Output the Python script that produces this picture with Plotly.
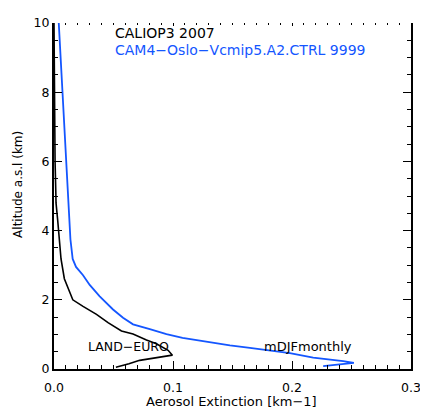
import plotly.graph_objects as go

# CALIOP3 2007, LAND-EURO profile (extinction km-1 vs altitude km)
caliop_alt = [10.0, 8.0, 7.0, 6.0, 5.0, 4.8, 4.3, 3.75, 3.18, 2.61, 2.24, 2.0,
              1.81, 1.58, 1.34, 1.10, 1.01, 0.92, 0.84, 0.73, 0.68, 0.54, 0.40,
              0.33, 0.25, 0.15, 0.05]
caliop_ext = [0.0, 0.0003, 0.0006, 0.0009, 0.0016, 0.0017, 0.0031, 0.0045, 0.0059,
              0.0087, 0.0130, 0.0158, 0.0244, 0.0357, 0.0454, 0.0567, 0.0664,
              0.0720, 0.0777, 0.0860, 0.0889, 0.0959, 0.0995,
              0.0850, 0.0720, 0.0630, 0.0520]

# CAM4-Oslo-Vcmip5.A2.CTRL mDJFmonthly profile
model_alt = [10.0, 8.75, 7.8, 6.39, 4.97, 3.75, 3.18, 2.95, 2.71, 2.52, 2.43, 2.1,
             1.72, 1.48, 1.29, 1.15, 1.01, 0.90, 0.77, 0.68, 0.61, 0.54, 0.46,
             0.33, 0.27, 0.23, 0.18, 0.085]
model_ext = [0.0040, 0.0059, 0.0073, 0.0093, 0.0115, 0.0138, 0.0157, 0.0185, 0.0244,
             0.0283, 0.0300, 0.0384, 0.0496, 0.0580, 0.0664, 0.0805, 0.0945,
             0.1080, 0.1310, 0.1478, 0.1646, 0.1815, 0.1982,
             0.2178, 0.2347, 0.2430, 0.2520, 0.2262]

x_tickvals = [0.0, 0.1, 0.2, 0.3]
x_ticktext = ["0.0", "0.1", "0.2", "0.3"]
y_tickvals = [0, 2, 4, 6, 8, 10]
y_ticktext = ["0", "2", "4", "6", "8", "10"]

title_obs = "CALIOP3 2007"
title_model = "CAM4\u2212Oslo\u2212Vcmip5.A2.CTRL 9999"
label_obs = "LAND\u2212EURO"
label_model = "mDJFmonthly"

BLUE = "#1456ff"
FONT = "DejaVu Sans"

fig = go.Figure()
fig.add_trace(go.Scatter(x=caliop_ext, y=caliop_alt, mode="lines",
                         line=dict(color="black", width=1.6), showlegend=False,
                         hoverinfo="skip"))
# model profile drawn against the (identical) top axis so its ticks are shown
fig.add_trace(go.Scatter(x=model_ext, y=model_alt, mode="lines", xaxis="x2",
                         line=dict(color=BLUE, width=1.8), showlegend=False,
                         hoverinfo="skip"))

# the page body has an 8px default margin, so the figure is 8px smaller
fig.update_layout(
    width=420, height=402,
    margin=dict(l=46, r=17, t=7, b=41),
    paper_bgcolor="white", plot_bgcolor="white",
    font=dict(family=FONT, color="black", size=12.5),
    xaxis=dict(range=[0, 0.3], tickvals=x_tickvals, ticktext=x_ticktext,
               ticks="inside", ticklen=8, tickwidth=1.3, tickcolor="black",
               minor=dict(dtick=0.01, ticks="inside", ticklen=4, tickwidth=1.1,
                          tickcolor="black", showgrid=False),
               showline=True, linewidth=2, linecolor="black", mirror=False,
               showgrid=False, zeroline=False, ticklabelstandoff=6,
               tickfont=dict(size=12.5)),
    xaxis2=dict(range=[0, 0.3], overlaying="x", side="top", anchor="y",
                showticklabels=False, ticks="inside", ticklen=3, tickwidth=1.3,
                tickcolor="black", dtick=0.1,
                minor=dict(dtick=0.01, ticks="inside", ticklen=2, tickwidth=1.2,
                           tickcolor="black", showgrid=False),
                showline=False, showgrid=False, zeroline=False),
    yaxis=dict(range=[0, 10], tickvals=y_tickvals, ticktext=y_ticktext,
               ticks="inside", ticklen=8, tickwidth=1.3, tickcolor="black",
               minor=dict(dtick=0.5, ticks="inside", ticklen=4, tickwidth=1.1,
                          tickcolor="black", showgrid=False),
               showline=True, linewidth=2, linecolor="black", mirror="ticks",
               showgrid=False, zeroline=False, tickfont=dict(size=12.5),
               ticklabeloverflow="allow"),
)

fig.add_annotation(x=0.0494, y=9.71, xref="x", yref="y", text=title_obs,
                   showarrow=False, xanchor="left", yanchor="middle",
                   font=dict(family=FONT, size=14, color="black"))
fig.add_annotation(x=0.0494, y=9.22, xref="x", yref="y", text=title_model,
                   showarrow=False, xanchor="left", yanchor="middle",
                   font=dict(family=FONT, size=14, color=BLUE))
fig.add_annotation(x=0.0627, y=0.66, xref="x", yref="y", text=label_obs,
                   showarrow=False, xanchor="center", yanchor="middle",
                   font=dict(family=FONT, size=12.5, color="black"))
fig.add_annotation(x=0.2138, y=0.66, xref="x", yref="y", text=label_model,
                   showarrow=False, xanchor="center", yanchor="middle",
                   font=dict(family=FONT, size=13, color="black"))
fig.add_annotation(x=0.498, y=-0.093, xref="paper", yref="paper",
                   text="Aerosol Extinction [km\u22121]", showarrow=False,
                   xanchor="center", yanchor="middle",
                   font=dict(family=FONT, size=13, color="black"))
fig.add_annotation(x=-0.099, y=0.534, xref="paper", yref="paper",
                   text="Altitude a.s.l (km)", showarrow=False, textangle=-90,
                   xanchor="center", yanchor="middle",
                   font=dict(family=FONT, size=12, color="black"))

fig.write_html("out.html")
